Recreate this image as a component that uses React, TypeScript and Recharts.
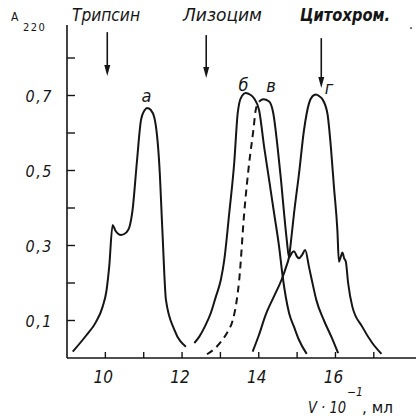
import React from 'react';
import { LineChart, Line, XAxis, YAxis, ReferenceLine, ReferenceDot } from 'recharts';

// elution curves, [V·10^-1 ml, A220]
const curveA: [number, number][] = [
  [9.15, 0.017], [9.5, 0.06], [9.75, 0.095], [9.93, 0.137], [10.03, 0.18], [10.1, 0.243],
  [10.19, 0.355], [10.26, 0.34], [10.41, 0.328], [10.55, 0.335], [10.63, 0.35], [10.71, 0.395],
  [10.82, 0.52], [10.93, 0.635], [11.02, 0.66], [11.09, 0.667], [11.18, 0.662], [11.28, 0.64],
  [11.41, 0.51], [11.49, 0.333], [11.58, 0.155], [11.8, 0.075], [12.1, 0.03],
];
const curveB: [number, number][] = [
  [12.32, 0.04], [12.45, 0.057], [12.6, 0.085], [12.75, 0.12], [12.88, 0.163], [13.01, 0.208],
  [13.1, 0.261], [13.23, 0.386], [13.36, 0.52], [13.45, 0.652], [13.49, 0.679], [13.57, 0.7],
  [13.66, 0.707], [13.78, 0.702], [13.88, 0.692], [14.01, 0.66], [14.14, 0.563], [14.27, 0.475],
  [14.4, 0.386], [14.53, 0.297], [14.62, 0.22], [14.79, 0.12], [14.92, 0.083], [15.05, 0.048],
  [15.25, 0.011],
];
const curveVDashed: [number, number][] = [
  [12.65, 0.01], [12.85, 0.025], [13.05, 0.048], [13.2, 0.072], [13.32, 0.1], [13.42, 0.15],
  [13.49, 0.208], [13.62, 0.386], [13.75, 0.52], [13.86, 0.608], [13.92, 0.661], [14.01, 0.684],
];
const curveVSolid: [number, number][] = [
  [14.01, 0.684], [14.12, 0.69], [14.27, 0.684], [14.38, 0.652], [14.49, 0.563], [14.58, 0.475],
  [14.66, 0.386], [14.73, 0.315], [14.79, 0.268], [14.86, 0.28], [14.92, 0.285], [15.0, 0.27],
  [15.05, 0.266], [15.13, 0.275], [15.21, 0.288], [15.31, 0.243], [15.4, 0.2], [15.5, 0.155],
  [15.7, 0.1], [15.9, 0.055], [16.07, 0.013],
];
const curveG: [number, number][] = [
  [13.84, 0.017], [14.0, 0.06], [14.18, 0.115], [14.4, 0.165], [14.6, 0.21], [14.72, 0.245],
  [14.79, 0.27], [14.86, 0.33], [14.92, 0.386], [15.05, 0.492], [15.18, 0.608], [15.31, 0.679],
  [15.4, 0.698], [15.49, 0.703], [15.58, 0.698], [15.66, 0.69], [15.79, 0.652], [15.88, 0.563],
  [15.96, 0.457], [16.05, 0.341], [16.09, 0.257], [16.14, 0.27], [16.18, 0.281], [16.23, 0.265],
  [16.27, 0.257], [16.33, 0.2], [16.44, 0.137], [16.7, 0.083], [16.96, 0.04], [17.2, 0.011],
];

const xTicks = [10, 11, 12, 13, 14, 15, 16, 17];
const xLabelled = [10, 12, 14, 16];
const yTicks = [0.1, 0.2, 0.3, 0.4, 0.5, 0.6, 0.7, 0.8];
const yLabelled = [0.1, 0.3, 0.5, 0.7];

// protein markers: arrow position and span
const arrowX = [10.05, 12.63, 15.63];
const arrowTop = [0.869, 0.861, 0.853];
const arrowBottom = [0.752, 0.747, 0.72];

const peakNames = ['а', 'б', 'в', 'г'];
const peakNameX = [11.07, 13.6, 14.32, 15.83];
const peakNameY = [0.7, 0.728, 0.725, 0.72];

const FONT = "'Liberation Sans Narrow', 'DejaVu Sans Condensed', 'DejaVu Sans', sans-serif";
const INK = '#151515';

const toPoints = (pairs: [number, number][]) => pairs.map(([v, a]) => ({ v, a }));

const XTick = (props: any) => {
  const { x, y, payload } = props;
  const show = xLabelled.includes(payload.value);
  return (
    <g>
      <line x1={x} y1={y} x2={x} y2={y - 6} stroke={INK} strokeWidth={1.4} />
      {show && (
        <text x={x - 2} y={y + 25} textAnchor="middle" fontFamily={FONT} fontStyle="italic"
          fontSize={17} fill={INK}>
          {payload.value}
        </text>
      )}
    </g>
  );
};

const YTick = (props: any) => {
  const { x, y, payload } = props;
  const show = yLabelled.some((t) => Math.abs(t - payload.value) < 1e-6);
  return (
    <g>
      <line x1={x} y1={y} x2={x + 8} y2={y} stroke={INK} strokeWidth={1.4} />
      {show && (
        <text x={x - 14} y={y + 6} textAnchor="end" fontFamily={FONT} fontStyle="italic"
          fontSize={16} letterSpacing={1.5} fill={INK}>
          {payload.value.toFixed(1).replace('.', ',')}
        </text>
      )}
    </g>
  );
};

const Arrow = (props: any) => {
  const { x1, y1, x2, y2 } = props;
  return (
    <g>
      <line x1={x1} y1={y1} x2={x2} y2={y2 - 8} stroke={INK} strokeWidth={1.6} />
      <polygon points={`${x2 - 3},${y2 - 11} ${x2 + 3},${y2 - 11} ${x2},${y2}`} fill={INK} />
    </g>
  );
};

const App = () => {
  const series = [
    { key: 'a', data: toPoints(curveA), dash: undefined },
    { key: 'b', data: toPoints(curveB), dash: undefined },
    { key: 'vd', data: toPoints(curveVDashed), dash: '7 5' },
    { key: 'vs', data: toPoints(curveVSolid), dash: undefined },
    { key: 'g', data: toPoints(curveG), dash: undefined },
  ];
  return (
    <div style={{ position: 'absolute', left: 0, top: 0, width: 416, height: 416, background: '#fff' }}>
      <LineChart width={416} height={416} margin={{ top: 25, right: 0, bottom: 0, left: 0 }}>
        <XAxis dataKey="v" type="number" domain={[9, 18.1]} ticks={xTicks} allowDataOverflow
          height={58} tickSize={0} tickMargin={0} tick={<XTick />} interval={0}
          axisLine={{ stroke: INK, strokeWidth: 1.6 }} />
        <YAxis type="number" domain={[0, 0.888]} ticks={yTicks} allowDataOverflow width={67}
          tickSize={0} tickMargin={0} tick={<YTick />} interval={0}
          axisLine={{ stroke: INK, strokeWidth: 1.6 }} />
        {series.map((s) => (
          <Line key={s.key} data={s.data} dataKey="a" type="monotone" stroke={INK} strokeWidth={2}
            strokeDasharray={s.dash} dot={false} activeDot={false} isAnimationActive={false} />
        ))}
        {arrowX.map((x, i) => (
          <ReferenceLine key={`arr-${i}`} segment={[{ x, y: arrowTop[i] }, { x, y: arrowBottom[i] }]}
            shape={<Arrow />} />
        ))}
        {peakNames.map((n, i) => (
          <ReferenceDot key={`pk-${i}`} x={peakNameX[i]} y={peakNameY[i]} r={0}
            shape={(p: any) => (
              <text x={p.cx} y={p.cy + 6} textAnchor="middle" fontFamily={FONT} fontStyle="italic"
                fontSize={18} fill={INK}>
                {n}
              </text>
            )} />
        ))}
      </LineChart>
      <svg width={416} height={416} style={{ position: 'absolute', left: 0, top: 0, pointerEvents: 'none' }}>
        <g fontFamily={FONT} fontStyle="italic" fill={INK}>
          <text x={11} y={21} fontSize={12} fontStyle="normal">A</text>
          <text x={23} y={31} fontSize={11} letterSpacing={1.5} fontStyle="normal">220</text>
          <text x={72} y={21} fontSize={17} textLength={68} lengthAdjust="spacingAndGlyphs">Трипсин</text>
          <text x={183} y={21} fontSize={17} textLength={79} lengthAdjust="spacingAndGlyphs">Лизоцим</text>
          <text x={300} y={21} fontSize={17} fontWeight="bold" textLength={90}
            lengthAdjust="spacingAndGlyphs">Цитохром.</text>
          <text x={409} y={29} fontSize={14} fontStyle="normal">.</text>
          <text x={308} y={413} fontSize={16} textLength={38} lengthAdjust="spacingAndGlyphs">V · 10</text>
          <text x={347} y={396} fontSize={12}>−1</text>
          <text x={362} y={413} fontSize={16} fontStyle="normal" textLength={31}
            lengthAdjust="spacingAndGlyphs">, мл</text>
        </g>
      </svg>
    </div>
  );
};

export default App;
